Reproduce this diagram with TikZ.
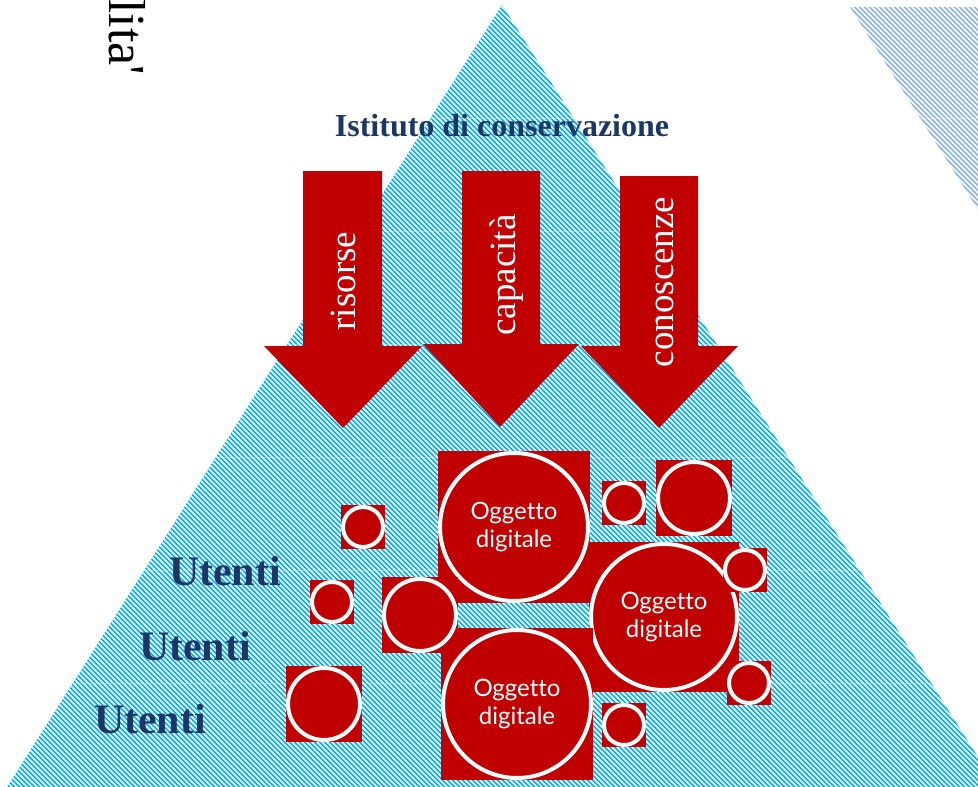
\documentclass[tikz,border=0pt]{standalone}
\usepackage{fontspec}
\setmainfont{Liberation Serif}
\newfontfamily\objfont[Ligatures=NoCommon]{Lato}
\usepackage{tikz}
\usetikzlibrary{calc}
\definecolor{pyrblue}{RGB}{0,176,240}
\definecolor{pyrgrey}{RGB}{141,180,226}
\definecolor{arrowred}{RGB}{192,0,0}
\definecolor{navy}{RGB}{28,55,100}
\tikzstyle{stripe}=[white, line width=1.5pt]
\tikzstyle{layer}=[white, opacity=.35, line width=.8pt]
\tikzstyle{arr}=[fill=arrowred]
\tikzstyle{arrtxt}=[rotate=90, anchor=base, inner sep=0pt, text=white, font=\fontsize{37}{37}\selectfont]
\tikzstyle{utenti}=[anchor=base, inner sep=0pt, text=navy, font=\bfseries\fontsize{42}{42}\selectfont]
\tikzstyle{objsq}=[shape=rectangle, fill=arrowred, inner sep=0pt]
\tikzstyle{objc}=[shape=circle, draw=white, line width=4pt, fill=arrowred, inner sep=0pt, text=white, align=center, font=\objfont\fontsize{24}{28}\selectfont]

\begin{document}
\begin{tikzpicture}[x=1pt, y=-1pt]
\clip (0,0) rectangle (978,787);
% the two striped pyramids
\coordinate (apex) at (502,5);
\coordinate (bl) at (4,792);
\coordinate (br) at (1000,792);
\fill[pyrblue] (apex) -- (bl) -- (br) -- cycle;
\begin{scope}
\clip (apex) -- (bl) -- (br) -- cycle;
\foreach \a in {-800,-795,...,1000} \draw[stripe] (\a,0) -- ++(800,800);
\foreach \h in {118,231,344,457,570,683} \draw[layer] (0,\h) -- (978,\h);
\end{scope}
\coordinate (tl) at (850,7);
\coordinate (tr) at (1400,7);
\coordinate (tb) at (1125,442);
\fill[pyrgrey] (tl) -- (tr) -- (tb) -- cycle;
\begin{scope}
\clip (tl) -- (tr) -- (tb) -- cycle;
\foreach \a in {600,605,...,1000} \draw[stripe] (\a,0) -- ++(300,300);
\draw[layer] (840,118) -- (978,118);
\end{scope}
% the cut title on the left
\node[rotate=-90, anchor=base west, inner sep=0pt, font=\fontsize{52}{52}\selectfont] (qual) at (109,-1) {lita\textquotesingle};
% the institute and its arrows
\node[anchor=base, inner sep=0pt, text=navy, font=\bfseries\fontsize{32}{32}\selectfont] (inst) at (502,136) {Istituto di conservazione};
\fill[arr] (303,171) -- (382,171) -- (382,346) -- (422,346) -- (343,428) -- (264,346) -- (303,346) -- cycle;
\fill[arr] (462,171) -- (540,171) -- (540,344) -- (579,344) -- (500,427) -- (423,344) -- (462,344) -- cycle;
\fill[arr] (620,176) -- (698,176) -- (698,346) -- (738,346) -- (659,428) -- (581,346) -- (620,346) -- cycle;
\node[arrtxt] (ris) at (355,281) {risorse};
\node[arrtxt] (cap) at (515,275) {capacità};
\node[arrtxt] (con) at (673,282) {conoscenze};
% the digital objects
\foreach \n/\x/\y/\s/\t [evaluate=\s as \c using \s-4] in {
  o1/514/527/152/{Oggetto\\digitale}, o2/664/617/150/{Oggetto\\digitale},
  o3/517/704/152/{Oggetto\\digitale}, m1/420/615/76/{}, m2/324/704/76/{},
  m3/694/498/76/{}, s1/363/527/44/{}, s2/332/602/44/{}, s3/624/503/44/{},
  s4/745/570/44/{}, s5/749/683/44/{}, s6/624/725/44/{}}
{
\node[objsq, minimum size=\s pt] (\n sq) at (\x,\y) {};
\node[objc, minimum size=\c pt] (\n) at (\n sq) {\t};
}
% the users
\node[utenti] (u1) at (225,585) {Utenti};
\node[utenti] (u2) at (195,660) {Utenti};
\node[utenti] (u3) at (150,733) {Utenti};
\end{tikzpicture}
\end{document}
